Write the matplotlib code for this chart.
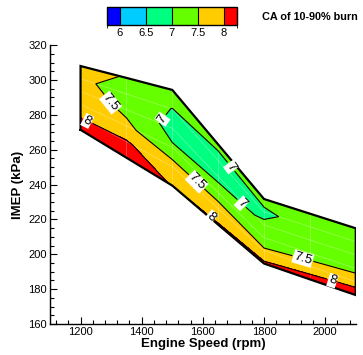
import numpy as np
import matplotlib
matplotlib.use('Agg')
import matplotlib.pyplot as plt
from matplotlib.colors import ListedColormap, BoundaryNorm
from matplotlib.cm import ScalarMappable
from matplotlib.ticker import MultipleLocator

plt.rcParams['font.family'] = ['Liberation Sans', 'DejaVu Sans']

# engine speeds (rpm) of the measured columns
speed = [1200, 1350, 1500, 1650, 1800, 1950, 2100]

# IMEP load points (kPa) at each speed, low load -> high load
imep = [
    [271.4, 278.7, 286.0, 293.4, 300.7, 308.0],
    [255.4, 264.6, 273.7, 282.9, 292.0, 301.2],
    [239.4, 250.4, 261.4, 272.3, 283.3, 294.3],
    [217.0, 226.2, 235.4, 244.6, 253.8, 263.0],
    [194.7, 202.1, 209.5, 216.9, 224.3, 231.7],
    [185.6, 193.1, 200.7, 208.2, 215.8, 223.3],
    [176.6, 184.3, 191.9, 199.6, 207.2, 214.9],
]

# CA of 10-90% burn at each point
burn = [
    [8.20, 7.99, 7.85, 7.75, 7.60, 7.62],
    [8.20, 8.04, 7.62, 7.38, 7.30, 7.48],
    [7.98, 7.75, 7.05, 6.85, 6.99, 7.25],
    [8.04, 7.62, 7.35, 6.80, 6.85, 7.10],
    [8.10, 7.55, 7.30, 7.05, 6.93, 7.12],
    [8.20, 7.70, 7.25, 7.20, 7.15, 7.15],
    [8.20, 7.85, 7.30, 7.25, 7.20, 7.20],
]

levels = [6, 6.5, 7, 7.5, 8]
colors = ['#0000ff', '#00ccff', '#00ff80', '#66ff00', '#ffcc00', '#ff0000']

# where the contour labels sit (rpm, kPa)
label_pos = [(1298, 287), (1570, 240), (1926, 197),
             (1230, 279), (1625, 221), (2024, 185),
             (1455, 279), (1674, 248), (1713, 227)]

Y = np.array(imep)
Z = np.array(burn)
X = np.repeat(np.array(speed, dtype=float)[:, None], Y.shape[1], axis=1)

fig = plt.figure(figsize=(3.63, 3.55), dpi=100)
ax = fig.add_axes([0.1377, 0.0873, 0.8424, 0.7856])

fill_levels = [0] + levels + [20]
ax.contourf(X, Y, Z, levels=fill_levels, colors=colors)

# faint mesh lines
for i in range(X.shape[0]):
    ax.plot(X[i], Y[i], color='white', lw=0.5, alpha=0.35)
for j in range(X.shape[1]):
    ax.plot(X[:, j], Y[:, j], color='white', lw=0.5, alpha=0.35)

cs = ax.contour(X, Y, Z, levels=levels, colors='black', linewidths=0.8)
lbls = ax.clabel(cs, fmt=lambda v: f'{v:g}', fontsize=9.5, inline=True,
                 manual=label_pos, inline_spacing=3)
for t in lbls:
    t.set_bbox(dict(facecolor='white', edgecolor='none', pad=0.6))

# domain outline
bx = np.concatenate([X[:, 0], X[-1, :], X[::-1, -1], X[0, ::-1]])
by = np.concatenate([Y[:, 0], Y[-1, :], Y[::-1, -1], Y[0, ::-1]])
ax.plot(bx, by, color='black', lw=1.6, solid_joinstyle='miter')

ax.set_xlim(1100, 2100)
ax.set_ylim(160, 320)
ax.xaxis.set_major_locator(MultipleLocator(200))
ax.xaxis.set_minor_locator(MultipleLocator(40))
ax.yaxis.set_major_locator(MultipleLocator(20))
ax.yaxis.set_minor_locator(MultipleLocator(5))
ax.spines['top'].set_visible(False)
ax.spines['right'].set_visible(False)
for s in ['left', 'bottom']:
    ax.spines[s].set_linewidth(1.0)
ax.tick_params(which='both', direction='in', width=0.8, labelsize=8, pad=2)
ax.tick_params(which='major', length=5)
ax.tick_params(which='minor', length=3)
ax.set_xlabel('Engine Speed (rpm)', fontsize=9.5, fontweight='bold', labelpad=1)
ax.set_ylabel('IMEP (kPa)', fontsize=9.5, fontweight='bold', labelpad=3)

# legend bar on top
cax = fig.add_axes([0.2948, 0.9296, 0.3573, 0.0507])
bounds = [levels[0] - 0.25] + levels + [levels[-1] + 0.25]
cmap = ListedColormap(colors)
norm = BoundaryNorm(bounds, cmap.N)
cb = fig.colorbar(ScalarMappable(norm=norm, cmap=cmap), cax=cax,
                  orientation='horizontal', ticks=levels,
                  spacing='proportional', drawedges=True)
cb.ax.set_xticklabels([f'{v:g}' for v in levels])
cb.ax.tick_params(length=0, labelsize=8, pad=2)
cb.outline.set_linewidth(1.0)
cb.dividers.set_color('black')
cb.dividers.set_linewidth(0.8)

fig.text(262 / 363, 1 - 17 / 355, 'CA of 10-90% burn', fontsize=7.8,
         fontweight='bold', va='center', ha='left')

fig.savefig('out.png', dpi=100)
